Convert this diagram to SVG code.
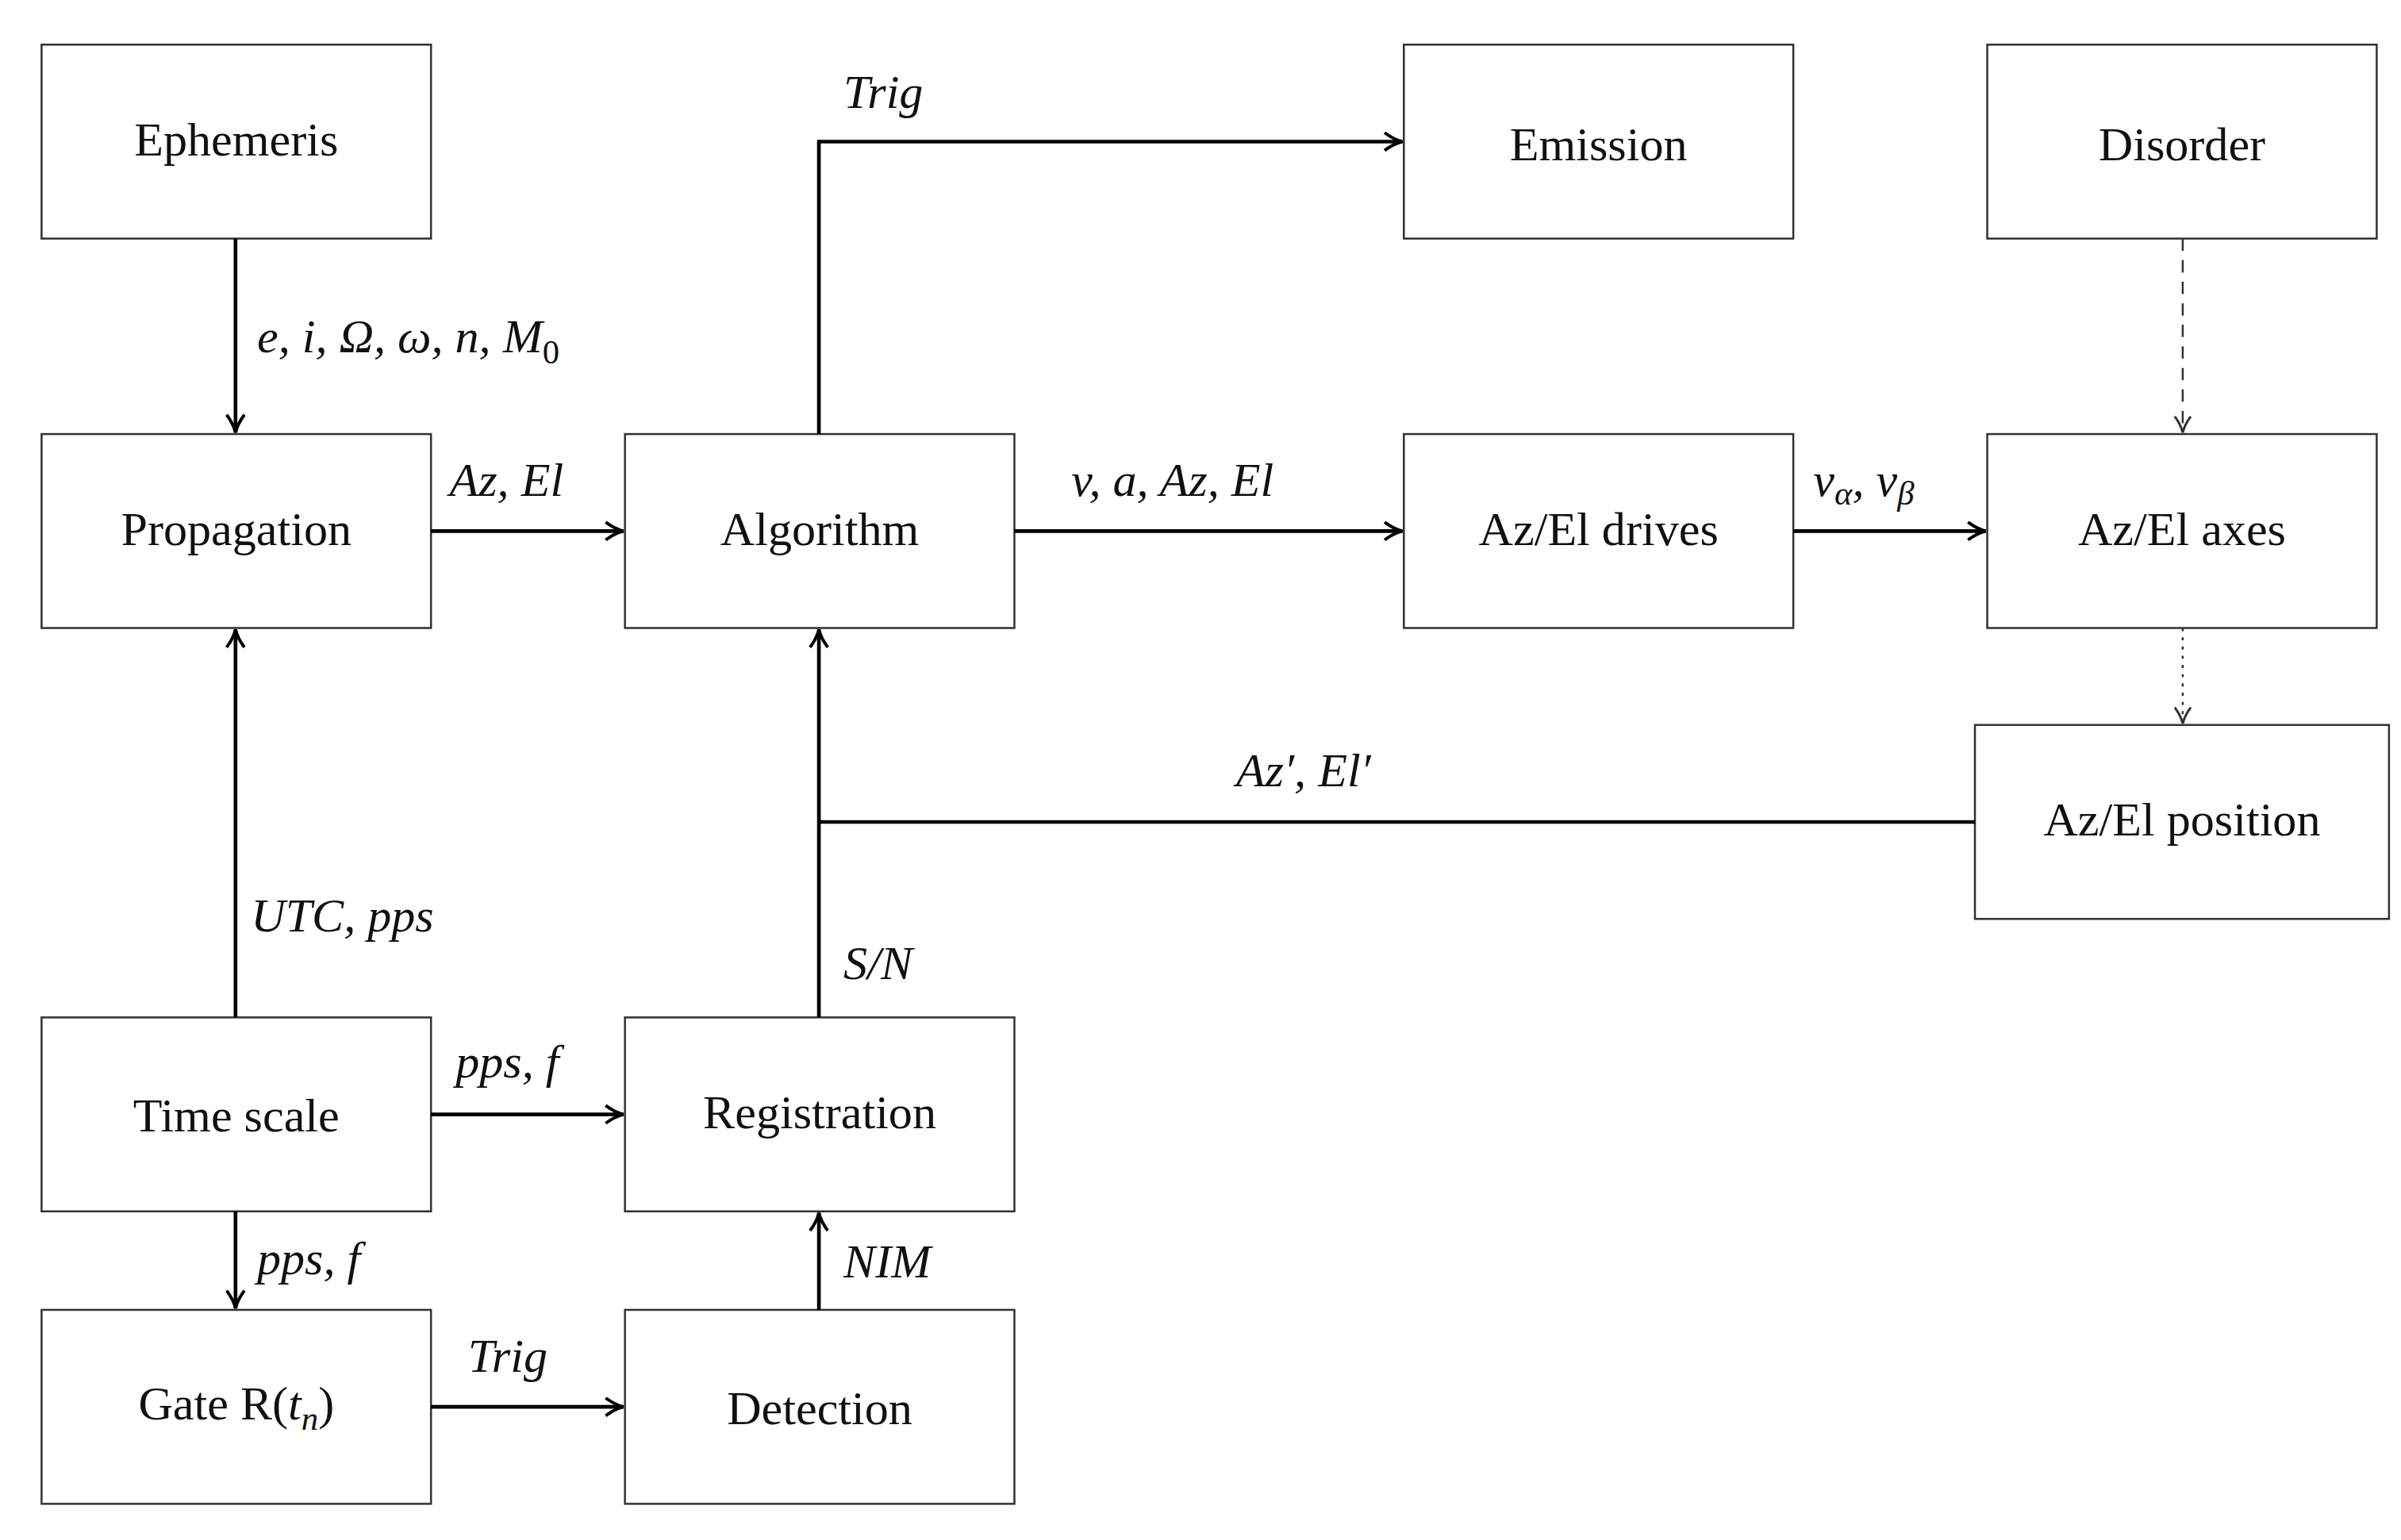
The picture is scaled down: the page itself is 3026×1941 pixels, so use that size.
<svg xmlns="http://www.w3.org/2000/svg" width="3026" height="1941" viewBox="0 0 3026 1941">
<style>
.box{fill:#fff;stroke:#333;stroke-width:1.3}
.t{font-family:"Liberation Serif","DejaVu Serif",serif;font-size:31px;fill:#111;text-anchor:middle}
.l{font-family:"Liberation Serif","DejaVu Serif",serif;font-size:31px;font-style:italic;fill:#111}
.c{fill:none;stroke:#000;stroke-width:2.4}
.thin{fill:none;stroke:#333;stroke-width:1.3}
</style>
<defs>
<marker id="a" viewBox="0 0 10 10" refX="9" refY="5" markerWidth="6" markerHeight="6" markerUnits="strokeWidth" orient="auto"><path d="M1,1 Q5,4 9,5 Q5,6 1,9" fill="none" stroke="#000" stroke-width="1.4"/></marker>
<marker id="b" viewBox="0 0 10 10" refX="9" refY="5" markerWidth="10" markerHeight="10" markerUnits="strokeWidth" orient="auto"><path d="M1,1 Q5,4 9,5 Q5,6 1,9" fill="none" stroke="#333" stroke-width="1.2"/></marker>
</defs>
<rect width="3026" height="1941" fill="#fff"/>
<g transform="scale(1.94)">
<g id="ephemeris"><rect class="box" x="27" y="29" width="253" height="126"/><text class="t" x="153.5" y="101">Ephemeris</text></g>
<g id="propagation"><rect class="box" x="27" y="282" width="253" height="126"/><text class="t" x="153.5" y="354">Propagation</text></g>
<g id="algorithm"><rect class="box" x="406" y="282" width="253" height="126"/><text class="t" x="532.5" y="354">Algorithm</text></g>
<g id="emission"><rect class="box" x="912" y="29" width="253" height="126"/><text class="t" x="1038.5" y="104">Emission</text></g>
<g id="disorder"><rect class="box" x="1291" y="29" width="253" height="126"/><text class="t" x="1417.5" y="104">Disorder</text></g>
<g id="drives"><rect class="box" x="912" y="282" width="253" height="126"/><text class="t" x="1038.5" y="354">Az/El drives</text></g>
<g id="axes"><rect class="box" x="1291" y="282" width="253" height="126"/><text class="t" x="1417.5" y="354">Az/El axes</text></g>
<g id="position"><rect class="box" x="1283" y="471" width="269" height="126"/><text class="t" x="1417.5" y="543">Az/El position</text></g>
<g id="timescale"><rect class="box" x="27" y="661" width="253" height="126"/><text class="t" x="153.5" y="735">Time scale</text></g>
<g id="registration"><rect class="box" x="406" y="661" width="253" height="126"/><text class="t" x="532.5" y="733">Registration</text></g>
<g id="gate"><rect class="box" x="27" y="851" width="253" height="126"/><text class="t" x="153.5" y="922">Gate R(<tspan font-style="italic">t</tspan><tspan font-style="italic" font-size="22" dy="7">n</tspan><tspan dy="-7">)</tspan></text></g>
<g id="detection"><rect class="box" x="406" y="851" width="253" height="126"/><text class="t" x="532.5" y="925">Detection</text></g>
<g id="connectors">
<path class="c" d="M153,155V281" marker-end="url(#a)"/>
<path class="c" d="M280,345H405" marker-end="url(#a)"/>
<path class="c" d="M532,282V92H911" marker-end="url(#a)"/>
<path class="c" d="M659,345H911" marker-end="url(#a)"/>
<path class="c" d="M1165,345H1290" marker-end="url(#a)"/>
<path class="thin" d="M1418,155V281" stroke-dasharray="8,6" marker-end="url(#b)"/>
<path class="thin" d="M1418,408V470" stroke-dasharray="2,4" marker-end="url(#b)"/>
<path class="c" d="M1283,534H532"/>
<path class="c" d="M532,661V409" marker-end="url(#a)"/>
<path class="c" d="M153,661V409" marker-end="url(#a)"/>
<path class="c" d="M280,724H405" marker-end="url(#a)"/>
<path class="c" d="M153,787V850" marker-end="url(#a)"/>
<path class="c" d="M280,914H405" marker-end="url(#a)"/>
<path class="c" d="M532,851V788" marker-end="url(#a)"/>
<text class="l" x="167" y="229">e, i, Ω, ω, n, M<tspan font-style="normal" font-size="22" dy="7">0</tspan></text>
<text class="l" x="292" y="322">Az, El</text>
<text class="l" x="548" y="70">Trig</text>
<text class="l" x="696" y="322">v, a, Az, El</text>
<text class="l" x="1178" y="322">v<tspan font-size="22" dy="6">α</tspan><tspan dy="-6">, v</tspan><tspan font-size="22" dy="6">β</tspan></text>
<text class="l" x="803" y="511">Az′, El′</text>
<text class="l" x="548" y="636">S/N</text>
<text class="l" x="163" y="605">UTC, pps</text>
<text class="l" x="296" y="700">pps, f</text>
<text class="l" x="167" y="828">pps, f</text>
<text class="l" x="304" y="891">Trig</text>
<text class="l" x="548" y="830">NIM</text>
</g>
</g>
</svg>
